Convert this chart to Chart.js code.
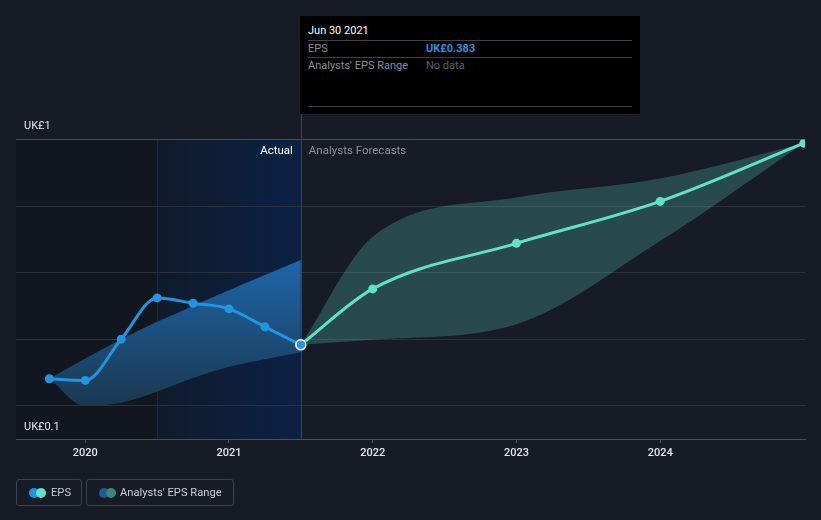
<!DOCTYPE html>
<html>
<head>
<meta charset="utf-8">
<script src="https://cdn.jsdelivr.net/npm/chart.js@4/dist/chart.umd.min.js"></script>
<style>
  html, body { margin: 0; padding: 0; background: #161b25; }
  body { width: 821px; height: 520px; position: relative; overflow: hidden; font-family: Roboto, "Noto Sans", sans-serif; }
  #c { position: absolute; left: 0; top: 0; }
  .tip { position: absolute; left: 300px; top: 16px; width: 340px; height: 98px; background: #000; }
  .tip .date { position: absolute; left: 8px; top: 8px; color: #fff; font-size: 11px; }
  .tip .sep { position: absolute; left: 8px; width: 324px; height: 1px; background: #3d4048; }
  .tip .lab { position: absolute; left: 8px; color: #8a8f98; font-size: 11px; }
  .tip .val { position: absolute; left: 126px; font-size: 11px; }
  .legend { position: absolute; top: 479px; height: 27px; border: 1px solid #3d424c; border-radius: 3px; box-sizing: border-box; color: #c9ccd2; font-size: 11.2px; }
  .legend span.t { position: absolute; top: 6px; }
  .dot { position: absolute; top: 8px; width: 10px; height: 10px; border-radius: 50%; }
</style>
</head>
<body>
<canvas id="c" width="821" height="520"></canvas>

<div class="tip">
  <div class="date">Jun 30 2021</div>
  <div class="sep" style="top:24px"></div>
  <div class="lab" style="top:26px">EPS</div>
  <div class="val" style="top:26px;color:#2394df;font-weight:bold">UK£0.383</div>
  <div class="sep" style="top:41px"></div>
  <div class="lab" style="top:43px">Analysts' EPS Range</div>
  <div class="val" style="top:43px;color:#5d6068">No data</div>
  <div class="sep" style="top:90px"></div>
</div>

<div class="legend" style="left:16px;width:66px">
  <div class="dot" style="left:12px;background:#2394df"></div>
  <div class="dot" style="left:19px;background:#5ee3c8"></div>
  <span class="t" style="left:34px">EPS</span>
</div>
<div class="legend" style="left:86px;width:148px">
  <div class="dot" style="left:12px;background:#1f5c8c"></div>
  <div class="dot" style="left:19px;background:#3a8580"></div>
  <span class="t" style="left:33px">Analysts' EPS Range</span>
</div>

<script>
// dates as decimal years (Dec 31 2024 -> 2025.0)
const actualDates = [2019.75, 2020.0, 2020.25, 2020.5, 2020.75, 2021.0, 2021.25, 2021.5];
const actualEps = [0.281, 0.276, 0.400, 0.524, 0.508, 0.491, 0.437, 0.383];
const actualHigh = [0.281, 0.342, 0.400, 0.452, 0.500, 0.547, 0.593, 0.638];
const actualLow = [0.281, 0.199, 0.209, 0.242, 0.283, 0.317, 0.340, 0.361];

const forecastDates = [2021.5, 2022.0, 2023.0, 2024.0, 2025.0];
const forecastEps = [0.383, 0.551, 0.688, 0.814, 0.989];
const forecastHigh = [0.383, 0.708, 0.826, 0.883, 0.989];
const forecastLow = [0.383, 0.398, 0.445, 0.695, 0.989];

const yearTicks = [2020, 2021, 2022, 2023, 2024];
const yGrid = [0.2, 0.4, 0.6, 0.8, 1.0];
const splitDate = 2021.5;
const pastStart = 2020.5;

const pts = (xs, ys) => xs.map((x, i) => ({ x: x, y: ys[i] }));

const bandGradient = (ctx) => {
  const chart = ctx.chart;
  const a = chart.chartArea;
  if (!a) return '#1d4f80';
  const y = chart.scales.y;
  const y0 = y.getPixelForValue(0.66);
  const y1 = y.getPixelForValue(0.2);
  if (!isFinite(y0) || !isFinite(y1)) return '#1d4f80';
  const g = chart.ctx.createLinearGradient(0, y0, 0, y1);
  g.addColorStop(0, '#1f68ae');
  g.addColorStop(1, '#1a3850');
  return g;
};

const backdrop = {
  id: 'backdrop',
  beforeDraw(chart) {
    const { ctx, chartArea: a, scales: { x } } = chart;
    const xs = x.getPixelForValue(pastStart);
    const xe = x.getPixelForValue(splitDate);
    ctx.save();
    ctx.fillStyle = '#12161e';
    ctx.fillRect(a.left, a.top, xs - a.left, a.bottom - a.top);
    const g = ctx.createLinearGradient(xs, 0, xe, 0);
    g.addColorStop(0, '#101a2b');
    g.addColorStop(1, '#0b2244');
    ctx.fillStyle = g;
    ctx.fillRect(xs, a.top, xe - xs, a.bottom - a.top);
    ctx.fillStyle = '#1a2a44';
    ctx.fillRect(Math.round(xs), a.top, 1, a.bottom - a.top);
    ctx.restore();
  },
  beforeDatasetsDraw(chart) {
    const { ctx, chartArea: a, scales: { x } } = chart;
    const xe = Math.round(x.getPixelForValue(splitDate));
    ctx.save();
    ctx.fillStyle = '#1d4c85';
    ctx.fillRect(xe, 114, 1, a.bottom - 114);
    ctx.restore();
  },
  afterDraw(chart) {
    const { ctx, chartArea: a, scales: { x, y } } = chart;
    const xe = x.getPixelForValue(splitDate);
    ctx.save();
    ctx.font = '11.5px Roboto';
    ctx.textBaseline = 'middle';
    ctx.fillStyle = '#ffffff';
    ctx.textAlign = 'right';
    ctx.fillText('Actual', xe - 8, a.top + 12);
    ctx.fillStyle = '#8a8f98';
    ctx.textAlign = 'left';
    ctx.fillText('Analysts Forecasts', xe + 8, a.top + 12);
    ctx.fillStyle = '#e4e6ea';
    ctx.font = '11px Roboto';
    ctx.fillText('UK£1', a.left + 8, y.getPixelForValue(1) - 13);
    ctx.fillText('UK£0.1', a.left + 8, a.bottom - 12);
    ctx.restore();
  }
};

new Chart(document.getElementById('c'), {
  type: 'line',
  data: {
    datasets: [
      {
        data: pts(actualDates, actualEps),
        order: 0,
        borderColor: '#2394df',
        backgroundColor: '#2394df',
        borderWidth: 3,
        pointRadius: [4.5, 4.5, 4.5, 4.5, 4.5, 4.5, 4.5, 5],
        pointBorderWidth: [0, 0, 0, 0, 0, 0, 0, 1.5],
        pointBorderColor: '#ffffff',
        fill: false,
        cubicInterpolationMode: 'monotone'
      },
      {
        data: pts(forecastDates, forecastEps),
        order: 1,
        borderColor: '#5ee3c8',
        backgroundColor: '#5ee3c8',
        borderWidth: 3,
        pointRadius: [0, 4.5, 4.5, 4.5, 4.5],
        pointBorderWidth: 0,
        fill: false,
        cubicInterpolationMode: 'monotone'
      },
      {
        data: pts(actualDates, actualHigh),
        order: 2,
        borderWidth: 0,
        pointRadius: 0,
        fill: '+1',
        backgroundColor: bandGradient,
        cubicInterpolationMode: 'monotone'
      },
      {
        data: pts(actualDates, actualLow),
        order: 3,
        borderWidth: 0,
        pointRadius: 0,
        fill: false,
        cubicInterpolationMode: 'monotone'
      },
      {
        data: pts(forecastDates, forecastHigh),
        order: 4,
        borderWidth: 0,
        pointRadius: 0,
        fill: '+1',
        backgroundColor: 'rgba(94,215,200,0.25)',
        cubicInterpolationMode: 'monotone'
      },
      {
        data: pts(forecastDates, forecastLow),
        order: 5,
        borderWidth: 0,
        pointRadius: 0,
        fill: false,
        cubicInterpolationMode: 'monotone'
      }
    ]
  },
  options: {
    responsive: false,
    animation: false,
    events: [],
    layout: { padding: { left: 16, right: 16, top: 139.5, bottom: 0 } },
    plugins: {
      legend: { display: false },
      tooltip: { enabled: false }
    },
    scales: {
      x: {
        type: 'linear',
        min: 2019.518,
        max: 2025.008,
        afterBuildTicks: (axis) => { axis.ticks = yearTicks.map(v => ({ value: v })); },
        afterFit: (axis) => { axis.height = 81; },
        grid: { drawOnChartArea: false, drawTicks: true, tickLength: 4, tickColor: '#4a4f59' },
        border: { display: true, color: '#4a4f59', width: 1 },
        ticks: {
          color: '#e4e6ea',
          font: { family: 'Roboto', size: 11, weight: '500' },
          padding: 4,
          maxRotation: 0,
          callback: (v) => String(v)
        }
      },
      y: {
        type: 'linear',
        min: 0.1,
        max: 1.0,
        afterBuildTicks: (axis) => { axis.ticks = yGrid.map(v => ({ value: v })); },
        afterFit: (axis) => { axis.width = 0; },
        ticks: { display: false },
        border: { display: false },
        grid: {
          drawTicks: false,
          color: (c) => (c.tick && c.tick.value === 1 ? '#464b55' : '#2b303a'),
          lineWidth: 1
        }
      }
    }
  },
  plugins: [backdrop]
});
</script>
</body>
</html>
